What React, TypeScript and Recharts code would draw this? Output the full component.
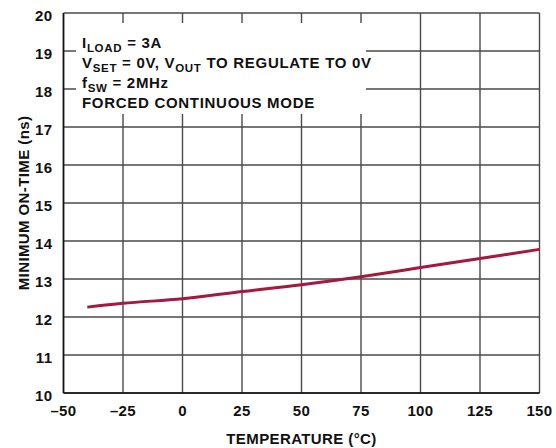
import { CartesianGrid, Line, LineChart, XAxis, YAxis } from 'recharts'

const temperatures = [-40, -25, 0, 25, 50, 75, 100, 125, 150]
const onTimeNs = [12.26, 12.36, 12.48, 12.67, 12.85, 13.06, 13.3, 13.54, 13.78]
const xTicks = [-50, -25, 0, 25, 50, 75, 100, 125, 150]
const yTicks = [10, 11, 12, 13, 14, 15, 16, 17, 18, 19, 20]

const data = temperatures.map((t, i) => ({ temp: t, ns: onTimeNs[i] }))

const FONT = '"Liberation Sans", Arial, Helvetica, sans-serif'
const INK = '#111'
const textStyle = { fontFamily: FONT, fontWeight: 700, fontSize: 15, letterSpacing: 0.4, fill: INK }
const noteStyle = { ...textStyle, letterSpacing: 0.7 }

const fmt = (v: number) => (v < 0 ? '\u2013' + Math.abs(v) : String(v))

function XTick({ x, y, payload }: any) {
  return (
    <text x={x} y={y} dy="0.71em" textAnchor="middle" style={textStyle}>
      {fmt(payload.value)}
    </text>
  )
}

function YTick({ x, y, payload }: any) {
  return (
    <text x={x} y={y + 2.5} dy="0.355em" textAnchor="end" style={textStyle}>
      {payload.value}
    </text>
  )
}

function XTitle({ viewBox }: any) {
  const cx = viewBox.x + viewBox.width / 2
  return (
    <text x={cx} y={viewBox.y + viewBox.height + 21} textAnchor="middle" style={textStyle}>
      TEMPERATURE (°C)
    </text>
  )
}

function YTitle({ viewBox }: any) {
  const x = viewBox.x + 15.5
  const y = viewBox.y + viewBox.height / 2
  return (
    <text x={x} y={y} textAnchor="middle" transform={`rotate(-90, ${x}, ${y})`} style={textStyle}>
      MINIMUM ON-TIME (ns)
    </text>
  )
}

function Sub({ children }: { children: string }) {
  return (
    <tspan fontSize={11.5} dy={3.5}>
      {children}
    </tspan>
  )
}

export default function App() {
  return (
    <div style={{ position: 'absolute', left: 0, top: 0, width: 556, height: 448, background: '#fff' }}>
      <LineChart width={556} height={448} data={data} margin={{ top: 13, right: 16.5, left: 13.5, bottom: 25 }}>
        <CartesianGrid stroke="#4a4a4a" strokeWidth={1.4} />
        <XAxis
          dataKey="temp"
          type="number"
          domain={[-50, 150]}
          ticks={xTicks}
          interval={0}
          height={30}
          tickSize={0}
          tickMargin={12}
          tickLine={false}
          axisLine={{ stroke: '#111', strokeWidth: 1.6 }}
          tick={<XTick />}
          label={<XTitle />}
        />
        <XAxis xAxisId="top" orientation="top" dataKey="temp" type="number" domain={[-50, 150]} height={0} tick={false} tickLine={false} axisLine={{ stroke: '#111', strokeWidth: 1.6 }} />
        <YAxis
          type="number"
          domain={[10, 20]}
          ticks={yTicks}
          interval={0}
          width={50}
          tickSize={0}
          tickMargin={11}
          tickLine={false}
          axisLine={{ stroke: '#111', strokeWidth: 1.6 }}
          tick={<YTick />}
          label={<YTitle />}
        />
        <YAxis yAxisId="right" orientation="right" type="number" domain={[10, 20]} width={0} tick={false} tickLine={false} axisLine={{ stroke: '#111', strokeWidth: 1.6 }} />
        <Line
          dataKey="ns"
          type="monotone"
          stroke="#A3193F"
          strokeWidth={3}
          dot={false}
          isAnimationActive={false}
        />
      </LineChart>
      <svg width={556} height={448} style={{ position: 'absolute', left: 0, top: 0, pointerEvents: 'none' }}>
        <rect x={76} y={23} width={290} height={91} fill="#fff" />
        <g style={noteStyle}>
          <text x={82} y={48.3}>
            I<Sub>LOAD</Sub>
            <tspan dy={-3.5}> = 3A</tspan>
          </text>
          <text x={82} y={68.3}>
            V<Sub>SET</Sub>
            <tspan dy={-3.5}> = 0V, V</tspan>
            <Sub>OUT</Sub>
            <tspan dy={-3.5}> TO REGULATE TO 0V</tspan>
          </text>
          <text x={82} y={88}>
            f<Sub>SW</Sub>
            <tspan dy={-3.5}> = 2MHz</tspan>
          </text>
          <text x={82} y={107.7}>FORCED CONTINUOUS MODE</text>
        </g>
      </svg>
    </div>
  )
}
